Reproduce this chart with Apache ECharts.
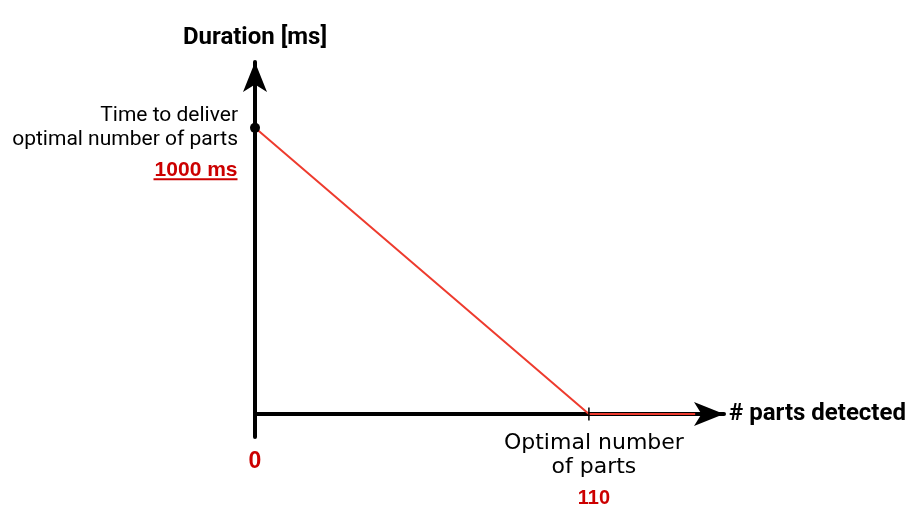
<!DOCTYPE html>
<html>
<head>
<meta charset="utf-8">
<script src="https://cdn.jsdelivr.net/npm/echarts@6/dist/echarts.min.js"></script>
<style>html,body{margin:0;padding:0;background:#fff}#c{width:921px;height:512px}</style>
</head>
<body>
<div id="c"></div>
<script>
// Data
const durationCurve = [[0, 1000], [110, 0], [145, 0]]; // [# parts, ms]
const deliverPoint = [[0, 1000]];
const optimalPoint = [[110, 0]];
const originPoint = [[0, 0]];
const xAxisName = '# parts detected';
const yAxisName = 'Duration [ms]';
const deliverLabel = ['Time to deliver', 'optimal number of parts'];
const deliverValue = '1000 ms';
const optimalLabel = ['Optimal number', 'of parts'];
const optimalValue = '110';
const originValue = '0';

const RED = '#cc0000';
const chart = echarts.init(document.getElementById('c'));
chart.setOption({
  animation: false,
  backgroundColor: '#fff',
  grid: { left: 255, right: 197, top: 62, bottom: 75 },
  xAxis: {
    type: 'value', min: 0, max: 154.5,
    name: xAxisName, nameLocation: 'end', nameGap: 5,
    nameTextStyle: { fontFamily: 'Roboto', fontWeight: 'bold', fontSize: 24, color: '#000', verticalAlign: 'middle' },
    axisLine: { show: true, onZero: true, lineStyle: { color: '#000', width: 4 }, symbol: ['none', 'arrow'], symbolSize: [18, 30] },
    axisTick: { show: false }, axisLabel: { show: false }, splitLine: { show: false }
  },
  yAxis: {
    type: 'value', min: -80, max: 1230,
    name: yAxisName, nameLocation: 'end', nameGap: 12,
    nameTextStyle: { fontFamily: 'Roboto', fontWeight: 'bold', fontSize: 24, color: '#000', align: 'center' },
    axisLine: { show: true, lineStyle: { color: '#000', width: 4 }, symbol: ['none', 'arrow'], symbolSize: [18, 30] },
    axisTick: { show: false }, axisLabel: { show: false }, splitLine: { show: false }
  },
  series: [
    {
      type: 'line', data: durationCurve, showSymbol: false, symbol: 'none',
      lineStyle: { color: '#ee3b2e', width: 2 }, z: 3
    },
    {
      type: 'scatter', data: deliverPoint, symbol: 'circle', symbolSize: 10,
      itemStyle: { color: '#000', opacity: 1 }, z: 4,
      label: {
        show: true, position: 'left', distance: 12, offset: [0, 0],
        formatter: deliverLabel.join('\n'),
        fontFamily: 'Roboto', fontSize: 21, lineHeight: 24, color: '#000', align: 'right'
      }
    },
    {
      type: 'scatter', data: deliverPoint, symbol: 'circle', symbolSize: 1,
      itemStyle: { color: 'rgba(0,0,0,0)', opacity: 1 }, z: 4,
      label: {
        show: true, position: 'left', distance: 17, offset: [0, 43],
        formatter: '{r|' + deliverValue + '}\n{u| }',
        rich: {
          r: { fontFamily: 'Liberation Sans', fontWeight: 'bold', fontSize: 21, color: RED, lineHeight: 17, align: 'right' },
          u: { width: 84, height: 2, lineHeight: 2, fontSize: 1, backgroundColor: RED, align: 'right' }
        }
      }
    },
    {
      type: 'scatter', data: optimalPoint, symbol: 'rect', symbolSize: [1.5, 13],
      itemStyle: { color: '#000', opacity: 1 }, z: 4,
      label: {
        show: true, position: 'bottom', distance: 11, offset: [5, 0],
        formatter: '{t|' + optimalLabel.join('}\n{t|') + '}\n{r|' + optimalValue + '}',
        rich: {
          t: { fontFamily: 'DejaVu Sans', fontSize: 22, lineHeight: 24, color: '#000', align: 'center' },
          r: { fontFamily: 'Liberation Sans', fontWeight: 'bold', fontSize: 20, lineHeight: 38, color: RED, align: 'center' }
        }
      }
    },
    {
      type: 'scatter', data: originPoint, symbol: 'circle', symbolSize: 1,
      itemStyle: { color: 'rgba(0,0,0,0)', opacity: 1 }, z: 4,
      label: {
        show: true, position: 'bottom', distance: 36,
        formatter: originValue,
        fontFamily: 'Liberation Sans', fontWeight: 'bold', fontSize: 23, color: RED
      }
    }
  ]
});
</script>
</body>
</html>
